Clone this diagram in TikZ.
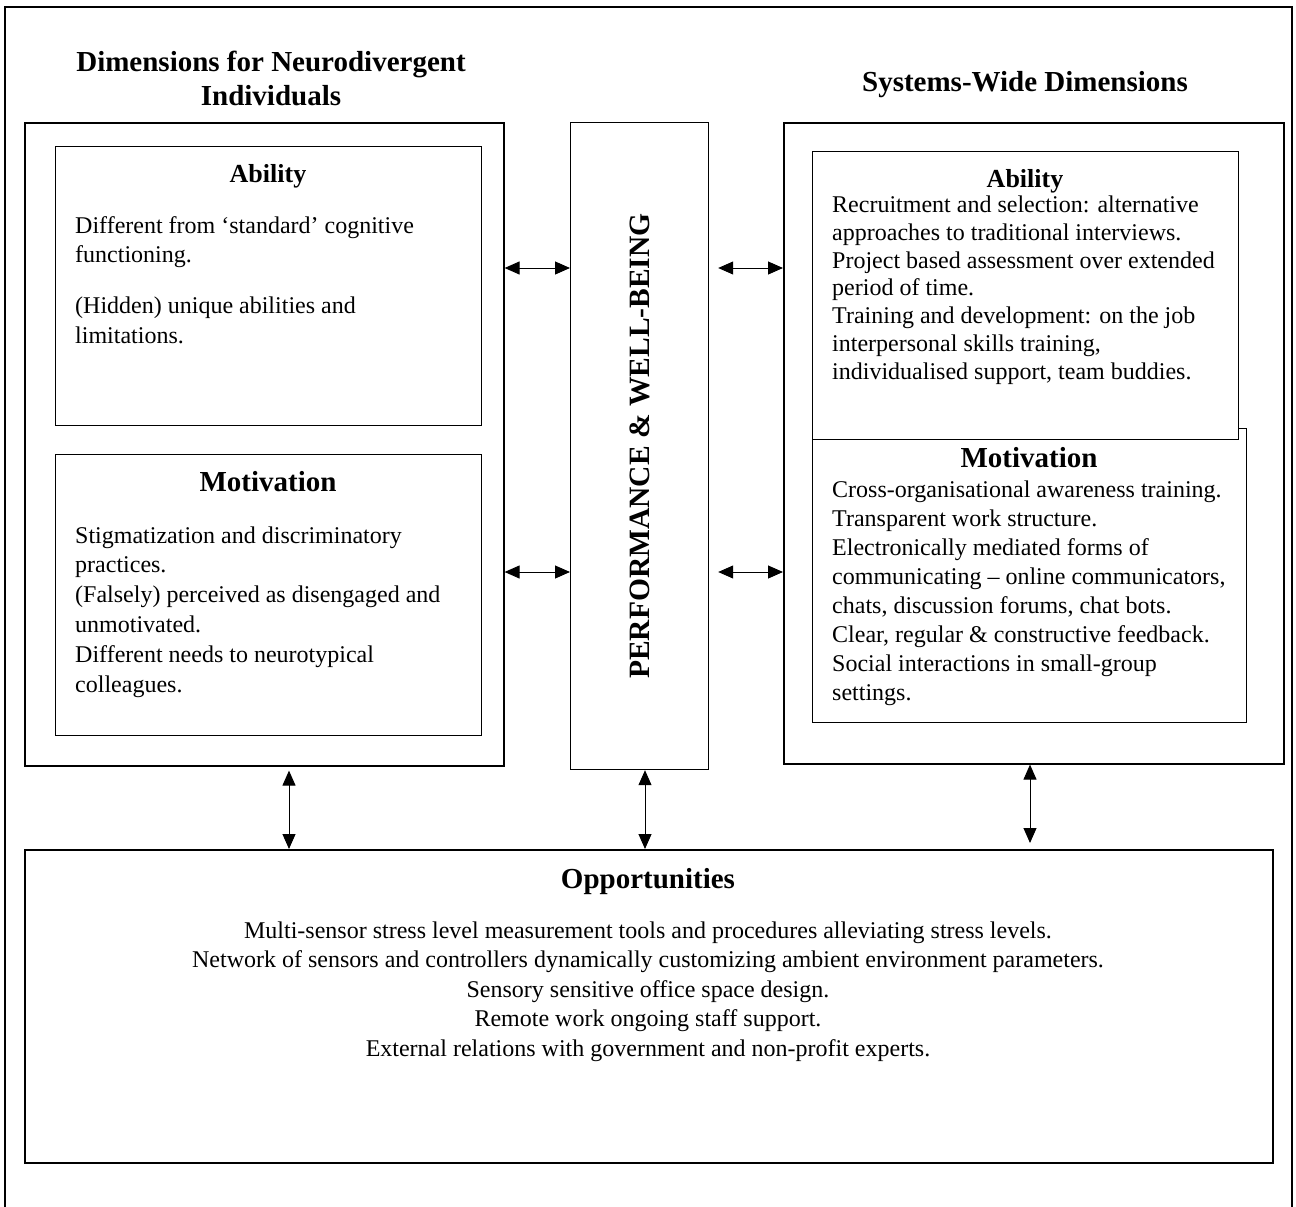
\documentclass[tikz,border=0pt]{standalone}
\usepackage{fontspec}
\setmainfont{Liberation Serif}
\usetikzlibrary{arrows.meta}
\begin{document}
\begin{tikzpicture}[x=1pt,y=-1pt,
  bigbox/.style={draw, line width=1.6pt, inner sep=0, anchor=north west},
  inbox/.style={draw, line width=1.2pt, inner sep=0, anchor=north west, fill=white},
  hd/.style={anchor=base, inner sep=0, font=\fontsize{26}{30}\selectfont\bfseries},
  hdl/.style={anchor=base, inner sep=0, font=\fontsize{29}{33}\selectfont\bfseries},
  ttl/.style={anchor=base, inner sep=0, align=center, font=\fontsize{29}{35}\selectfont\bfseries},
  bd/.style={anchor=base west, inner sep=0, align=left},
  arr/.style={line width=1pt, {Triangle[length=15pt,width=13pt]}-{Triangle[length=15pt,width=13pt]}}
]
\useasboundingbox (0,0) rectangle (1296,1207);
% outer frame
\draw[line width=1.2pt] (5,1215) -- (5,7) -- (1292,7) -- (1292,1215);

% titles (base anchor = baseline of last line)
\node[ttl] (t1) at (271,106) {Dimensions for Neurodivergent\\Individuals};
\node[ttl] (t2) at (1025,92) {Systems-Wide Dimensions};

% boxes
\node[bigbox, minimum width=479pt, minimum height=643pt] (leftbig) at (24,122) {};
\node[inbox, minimum width=426pt, minimum height=279pt] (labil) at (55,146) {};
\node[inbox, minimum width=426pt, minimum height=281pt] (lmot) at (55,454) {};
\node[draw, line width=1.2pt, inner sep=0, anchor=north west, minimum width=138pt, minimum height=647pt] (mid) at (570,122) {};
\node[bigbox, minimum width=500pt, minimum height=641pt] (rightbig) at (783,122) {};
\node[inbox, minimum width=434pt, minimum height=294pt] (rmot) at (812,428) {};
\node[inbox, minimum width=426pt, minimum height=288pt] (rabil) at (812,151) {};
\node[bigbox, minimum width=1248pt, minimum height=313pt] (opp) at (24,849) {};

% left ability
\node[hd] (lah) at (268,182) {Ability};
\node[bd, font=\fontsize{24}{29.5}\selectfont] (lat) at (75,343)
  {Different from ‘standard’ cognitive\\functioning.\\[21.5pt](Hidden) unique abilities and\\limitations.};

% left motivation
\node[hdl] (lmh) at (268,491) {Motivation};
\node[bd, font=\fontsize{24}{29.8}\selectfont] (lmt) at (75,692)
  {Stigmatization and discriminatory\\practices.\\(Falsely) perceived as disengaged and\\unmotivated.\\Different needs to neurotypical\\colleagues.};

% performance
\node[rotate=90, inner sep=0, font=\fontsize{29.5}{32}\selectfont\bfseries] (pw) at (mid.center) {PERFORMANCE \& WELL-BEING};

% right ability
\node[hd] (rah) at (1025,187) {Ability};
\node[bd, font=\fontsize{24}{27.7}\selectfont] (rat) at (832,379)
  {Recruitment and selection: alternative\\approaches to traditional interviews.\\Project based assessment over extended\\period of time.\\Training and development: on the job\\interpersonal skills training,\\individualised support, team buddies.};

% right motivation
\node[hdl] (rmh) at (1029,467) {Motivation};
\node[bd, font=\fontsize{24}{29}\selectfont] (rmt) at (832,700)
  {Cross-organisational awareness training.\\Transparent work structure.\\Electronically mediated forms of\\communicating – online communicators,\\chats, discussion forums, chat bots.\\Clear, regular \& constructive feedback.\\Social interactions in small-group\\settings.};

% opportunities
\node[hdl] (oph) at (648,888) {Opportunities};
\node[anchor=base, inner sep=0, align=center, font=\fontsize{24}{29.5}\selectfont] (opt) at (648,1056)
  {Multi-sensor stress level measurement tools and procedures alleviating stress levels.\\
   Network of sensors and controllers dynamically customizing ambient environment parameters.\\
   Sensory sensitive office space design.\\
   Remote work ongoing staff support.\\
   External relations with government and non-profit experts.};

% connectors
\coordinate (ya) at (0,268);
\coordinate (yb) at (0,572);
\coordinate (mdr) at ([xshift=9pt]mid.east);
\draw[arr] (leftbig.east |- ya) -- (mid.west |- ya);
\draw[arr] (leftbig.east |- yb) -- (mid.west |- yb);
\draw[arr] (mdr |- ya) -- (rightbig.west |- ya);
\draw[arr] (mdr |- yb) -- (rightbig.west |- yb);
\coordinate (xa) at (289,0);
\coordinate (xb) at (645,0);
\coordinate (xc) at (1030,0);
\coordinate (lbs) at ([yshift=-4pt]leftbig.south);
\coordinate (oppr) at ([yshift=6pt]opp.north);
\draw[arr] (xa |- lbs) -- (xa |- opp.north);
\draw[arr] (xb |- mid.south) -- (xb |- opp.north);
\draw[arr] (xc |- rightbig.south) -- (xc |- oppr);
\end{tikzpicture}
\end{document}
